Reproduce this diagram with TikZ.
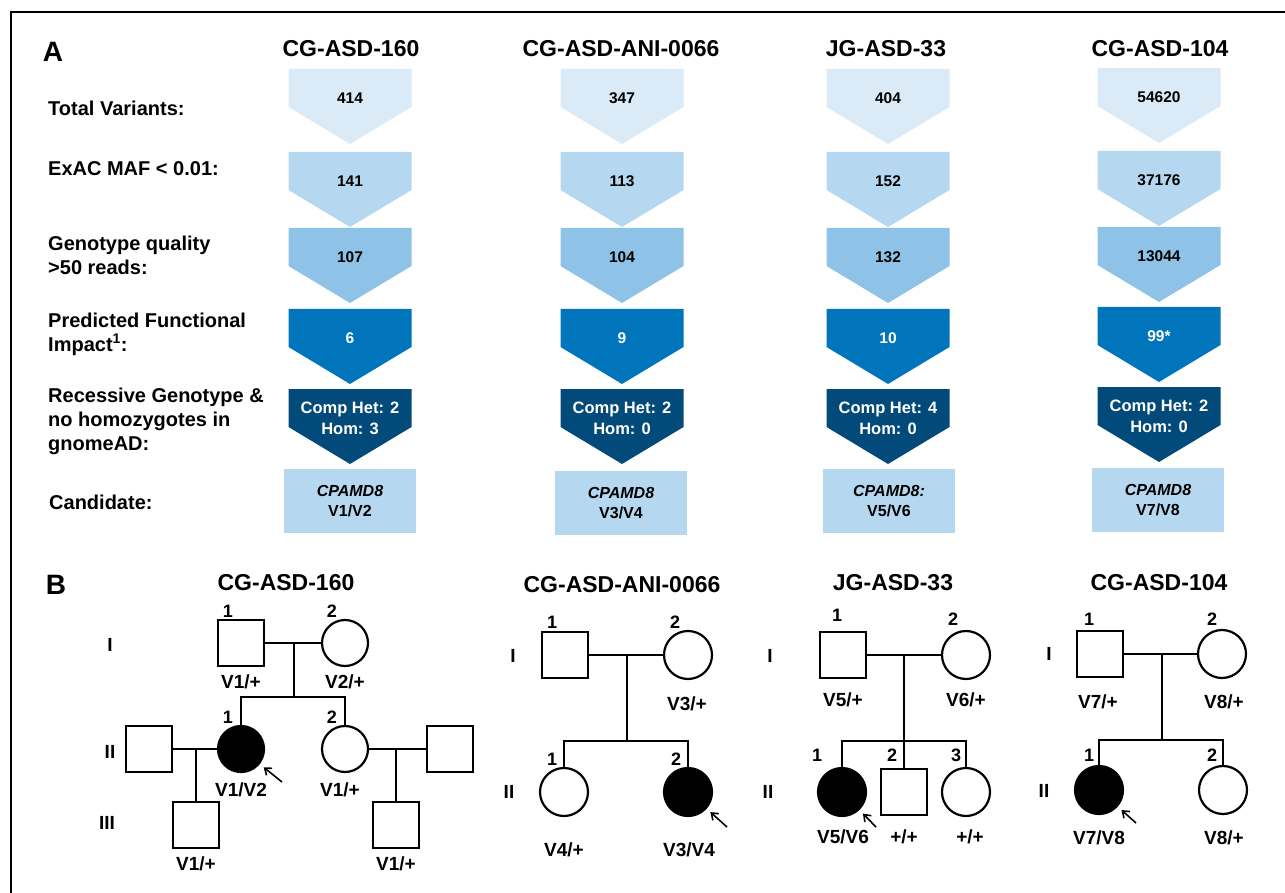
\documentclass[tikz,border=0pt]{standalone}
\usepackage{fontspec}
\setmainfont{Liberation Sans}
\usepackage{tikz}
\usetikzlibrary{arrows.meta}

\definecolor{fill1}{RGB}{218,234,247}
\definecolor{fill2}{RGB}{181,216,240}
\definecolor{fill3}{RGB}{142,195,231}
\definecolor{fill4}{RGB}{0,117,188}
\definecolor{fill5}{RGB}{2,74,122}

\tikzset{
  rowlabel/.style={anchor=west,align=left,inner sep=0pt,font=\fontsize{20}{24}\selectfont\bfseries},
  head/.style={inner sep=0pt,font=\fontsize{23}{27}\selectfont\bfseries},
  panel/.style={inner sep=0pt,font=\fontsize{28}{32}\selectfont\bfseries},
  count/.style={inner sep=0pt,align=center,font=\fontsize{15.5}{21}\selectfont\bfseries},
  hetcount/.style={inner sep=0pt,align=center,font=\fontsize{16.5}{21}\selectfont\bfseries},
  cand/.style={fill=fill2,minimum width=132pt,minimum height=64pt,inner sep=0pt,align=center,font=\fontsize{16}{20}\selectfont\bfseries},
  male/.style={draw,rectangle,minimum size=46pt,inner sep=0pt,line width=2.2pt},
  female/.style={draw,circle,minimum size=48pt,inner sep=0pt,line width=2.2pt},
  affected/.style={fill=black},
  ped/.style={line width=2.2pt},
  gen/.style={inner sep=0pt,font=\fontsize{19}{22}\selectfont\bfseries},
  geno/.style={inner sep=0pt,font=\fontsize{19}{22}\selectfont\bfseries},
  num/.style={inner sep=0pt,font=\fontsize{18}{22}\selectfont\bfseries},
  proband/.style={-{Straight Barb[length=6pt,width=9pt]},line width=1.6pt,shorten >=5pt}
}

% #1 name, #2 x centre, #3 top, #4 fill, #5 text colour, #6 text, #7 text style
\newcommand{\funnel}[7]{
  \fill[#4] ({#2-61.5},#3) -- ({#2+61.5},#3) -- ({#2+61.5},{#3+38})
    -- (#2,{#3+75}) -- ({#2-61.5},{#3+38}) -- cycle;
  \node[#7,text=#5] (#1) at (#2,{#3+29}) {#6};
}

\begin{document}
\begin{tikzpicture}[x=1pt,y=-1pt]
\useasboundingbox (0,0) rectangle (1285,893);
\draw[line width=2.2pt] (11,893) -- (11,12) -- (1285,12);

% panel A
\node[panel] (lblA) at (53,52) {A};
\node[head] (hA1) at (351,49) {CG-ASD-160};
\node[head] (hA2) at (621,49) {CG-ASD-ANI-0066};
\node[head] (hA3) at (886,49) {JG-ASD-33};
\node[head] (hA4) at (1160,49) {CG-ASD-104};

\node[rowlabel] (r1) at (48,108) {Total Variants:};
\node[rowlabel] (r2) at (48,169) {ExAC MAF < 0.01:};
\node[rowlabel] (r3) at (48,255) {Genotype quality\\>50 reads:};
\node[rowlabel] (r4) at (48,334) {Predicted Functional\\Impact\textsuperscript{1}:};
\node[rowlabel] (r5) at (48,421) {Recessive Genotype \&\\no homozygotes in\\gnomeAD:};
\node[rowlabel] (r6) at (49,502) {Candidate:};

\funnel{c1r1}{350}{69}{fill1}{black}{414}{count}
\funnel{c1r2}{350}{152}{fill2}{black}{141}{count}
\funnel{c1r3}{350}{228}{fill3}{black}{107}{count}
\funnel{c1r4}{350}{309}{fill4}{white}{6}{count}
\funnel{c1r5}{350}{389}{fill5}{white}{Comp Het: 2\\Hom: 3}{hetcount}
\node[cand] (c1r6) at (350,501) {\textit{CPAMD8}\\V1/V2};

\funnel{c2r1}{622}{69}{fill1}{black}{347}{count}
\funnel{c2r2}{622}{152}{fill2}{black}{113}{count}
\funnel{c2r3}{622}{228}{fill3}{black}{104}{count}
\funnel{c2r4}{622}{309}{fill4}{white}{9}{count}
\funnel{c2r5}{622}{389}{fill5}{white}{Comp Het: 2\\Hom: 0}{hetcount}
\node[cand] (c2r6) at (621,503) {\textit{CPAMD8}\\V3/V4};

\funnel{c3r1}{888}{69}{fill1}{black}{404}{count}
\funnel{c3r2}{888}{152}{fill2}{black}{152}{count}
\funnel{c3r3}{888}{228}{fill3}{black}{132}{count}
\funnel{c3r4}{888}{309}{fill4}{white}{10}{count}
\funnel{c3r5}{888}{389}{fill5}{white}{Comp Het: 4\\Hom: 0}{hetcount}
\node[cand] (c3r6) at (889,501) {\textit{CPAMD8:}\\V5/V6};

\funnel{c4r1}{1159}{68}{fill1}{black}{54620}{count}
\funnel{c4r2}{1159}{151}{fill2}{black}{37176}{count}
\funnel{c4r3}{1159}{227}{fill3}{black}{13044}{count}
\funnel{c4r4}{1159}{307}{fill4}{white}{99*}{count}
\funnel{c4r5}{1159}{387}{fill5}{white}{Comp Het: 2\\Hom: 0}{hetcount}
\node[cand] (c4r6) at (1158,500) {\textit{CPAMD8}\\V7/V8};

% panel B
\node[panel] (lblB) at (56,585) {B};
\node[head] (hB1) at (286,583) {CG-ASD-160};
\node[head] (hB2) at (622,585) {CG-ASD-ANI-0066};
\node[head] (hB3) at (893,583) {JG-ASD-33};
\node[head] (hB4) at (1159,583) {CG-ASD-104};

% CG-ASD-160
\node[gen] (p1gi) at (110,645) {I};
\node[gen] (p1gii) at (110,752) {II};
\node[gen] (p1giii) at (107,823) {III};
\node[male] (p1i1) at (241,643) {};
\node[female,minimum size=46pt] (p1i2) at (345,643) {};
\node[num] (p1n1) at (228,611) {1};
\node[num] (p1n2) at (332,611) {2};
\node[geno] (p1g1) at (241,682) {V1/+};
\node[geno] (p1g2) at (345,682) {V2/+};
\node[female,affected,minimum size=46pt] (p1ii1) at (241,749) {};
\node[female,minimum size=46pt] (p1ii2) at (345,749) {};
\node[num] (p1n3) at (228,717) {1};
\node[num] (p1n4) at (332,717) {2};
\node[geno] (p1g3) at (241,790) {V1/V2};
\node[geno] (p1g4) at (340,790) {V1/+};
\node[male] (p1sp1) at (149,749) {};
\node[male] (p1sp2) at (450,749) {};
\node[male] (p1iii1) at (196,825) {};
\node[male] (p1iii2) at (396,825) {};
\node[geno] (p1g5) at (196,864) {V1/+};
\node[geno] (p1g6) at (396,864) {V1/+};
\coordinate (p1m) at (294,643);
\coordinate (p1s) at (294,697);
\coordinate (p1ml) at (196,749);
\coordinate (p1mr) at (396,749);
\coordinate (p1a) at (282,782);
\draw[ped] (p1i1) -- (p1i2);
\draw[ped] (p1m) -- (p1s);
\draw[ped] (p1ii1) |- (p1s) -| (p1ii2);
\draw[ped] (p1sp1) -- (p1ii1);
\draw[ped] (p1ml) -- (p1iii1);
\draw[ped] (p1ii2) -- (p1sp2);
\draw[ped] (p1mr) -- (p1iii2);
\draw[proband] (p1a) -- (p1ii1);

% CG-ASD-ANI-0066
\node[gen] (p2gi) at (513,656) {I};
\node[gen] (p2gii) at (509,792) {II};
\node[male] (p2i1) at (565,655) {};
\node[female] (p2i2) at (688,655) {};
\node[num] (p2n1) at (552,622) {1};
\node[num] (p2n2) at (675,622) {2};
\node[geno] (p2g2) at (687,704) {V3/+};
\node[female] (p2ii1) at (564,792) {};
\node[female,affected] (p2ii2) at (688,792) {};
\node[num] (p2n3) at (552,759) {1};
\node[num] (p2n4) at (676,759) {2};
\node[geno] (p2g3) at (564,850) {V4/+};
\node[geno] (p2g4) at (689,850) {V3/V4};
\coordinate (p2m) at (627,655);
\coordinate (p2s) at (627,741);
\coordinate (p2a) at (727,827);
\draw[ped] (p2i1) -- (p2i2);
\draw[ped] (p2m) -- (p2s);
\draw[ped] (p2ii1) |- (p2s) -| (p2ii2);
\draw[proband] (p2a) -- (p2ii2);

% JG-ASD-33
\node[gen] (p3gi) at (770,656) {I};
\node[gen] (p3gii) at (768,792) {II};
\node[male] (p3i1) at (843,655) {};
\node[female] (p3i2) at (966,655) {};
\node[num] (p3n1) at (837,615) {1};
\node[num] (p3n2) at (953,619) {2};
\node[geno] (p3g1) at (843,700) {V5/+};
\node[geno] (p3g2) at (966,700) {V6/+};
\node[female,affected] (p3ii1) at (842,792) {};
\node[male] (p3ii2) at (904,792) {};
\node[female] (p3ii3) at (966,792) {};
\node[num] (p3n3) at (817,755) {1};
\node[num] (p3n4) at (892,755) {2};
\node[num] (p3n5) at (956,755) {3};
\node[geno] (p3g3) at (843,837) {V5/V6};
\node[geno] (p3g4) at (904,837) {+/+};
\node[geno] (p3g5) at (970,837) {+/+};
\coordinate (p3m) at (904,655);
\coordinate (p3s) at (904,741);
\coordinate (p3a) at (876,827);
\draw[ped] (p3i1) -- (p3i2);
\draw[ped] (p3m) -- (p3ii2);
\draw[ped] (p3ii1) |- (p3s) -| (p3ii3);
\draw[proband] (p3a) -- (p3ii1);

% CG-ASD-104
\node[gen] (p4gi) at (1049,654) {I};
\node[gen] (p4gii) at (1044,791) {II};
\node[male] (p4i1) at (1100,654) {};
\node[female] (p4i2) at (1222,654) {};
\node[num] (p4n1) at (1089,619) {1};
\node[num] (p4n2) at (1212,619) {2};
\node[geno] (p4g1) at (1098,702) {V7/+};
\node[geno] (p4g2) at (1224,702) {V8/+};
\node[female,affected] (p4ii1) at (1099,790) {};
\node[female] (p4ii2) at (1223,790) {};
\node[num] (p4n3) at (1089,755) {1};
\node[num] (p4n4) at (1212,755) {2};
\node[geno] (p4g3) at (1099,838) {V7/V8};
\node[geno] (p4g4) at (1224,838) {V8/+};
\coordinate (p4m) at (1162,654);
\coordinate (p4s) at (1162,740);
\coordinate (p4a) at (1136,823);
\draw[ped] (p4i1) -- (p4i2);
\draw[ped] (p4m) -- (p4s);
\draw[ped] (p4ii1) |- (p4s) -| (p4ii2);
\draw[proband] (p4a) -- (p4ii1);
\end{tikzpicture}
\end{document}
